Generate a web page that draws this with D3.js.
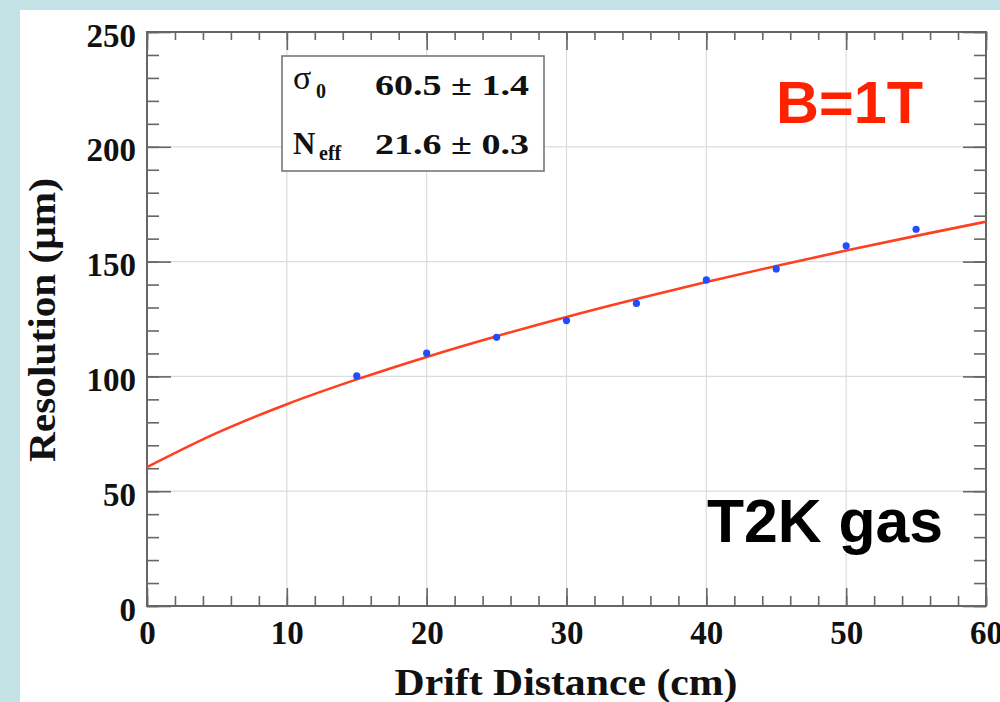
<!DOCTYPE html>
<html>
<head>
<meta charset="utf-8">
<script src="https://cdn.jsdelivr.net/npm/d3@7"></script>
<style>
  html, body { margin: 0; padding: 0; background: #c4e3e7; }
  svg { display: block; }
</style>
</head>
<body>
<svg id="chart" width="1000" height="702"></svg>
<script>
// ---- data ----
const driftDistance = [15, 20, 25, 30, 35, 40, 45, 50, 55];
const resolution    = [100.2, 110.1, 117.0, 124.3, 131.8, 142.0, 146.8, 156.9, 164.1];

const fitX = [0, 5, 10, 15, 20, 25, 30, 35, 40, 45, 50, 55, 60];
const fitY = [60.5, 75.4, 87.9, 98.7, 108.5, 117.5, 125.9, 133.7, 141.1, 148.1, 154.8, 161.2, 167.4];

const xMajorTicks = [0, 10, 20, 30, 40, 50, 60];
const yMajorTicks = [0, 50, 100, 150, 200, 250];
const xMinorTicks = d3.range(0, 60.001, 2);
const yMinorTicks = d3.range(0, 250.001, 10);

const statLabels = ["σ", "N"];
const statSubs   = ["0", "eff"];
const statValues = ["60.5 ± 1.4", "21.6 ± 0.3"];

// ---- drawing ----
const svg = d3.select("#chart");
const serif = "'Liberation Serif', 'Times New Roman', serif";
const sans = "'Liberation Sans', Arial, sans-serif";

// white panel
svg.append("rect").attr("x", 20).attr("y", 10).attr("width", 980).attr("height", 692).attr("fill", "#ffffff");

const x = d3.scaleLinear().domain([0, 60]).range([147, 986]);
const y = d3.scaleLinear().domain([0, 250]).range([606, 32]);

// grid
const grid = svg.append("g").attr("stroke", "#dcdcdc").attr("stroke-width", 1.2);
xMajorTicks.filter(v => v > 0 && v < 60).forEach(v => {
  grid.append("line").attr("x1", x(v)).attr("x2", x(v)).attr("y1", y(0)).attr("y2", y(250));
});
yMajorTicks.filter(v => v > 0 && v < 250).forEach(v => {
  grid.append("line").attr("x1", x(0)).attr("x2", x(60)).attr("y1", y(v)).attr("y2", y(v));
});

const axisColor = "#666";
function styleAxis(g) {
  g.select(".domain").remove();
  g.selectAll(".tick line").attr("stroke", axisColor).attr("stroke-width", 1.6);
}

// bottom axis
svg.append("g").attr("transform", `translate(0,${y(0)})`)
  .call(d3.axisBottom(x).tickValues(xMinorTicks).tickSize(-10).tickFormat(""))
  .call(styleAxis);
const xb = svg.append("g").attr("transform", `translate(0,${y(0)})`)
  .call(d3.axisBottom(x).tickValues(xMajorTicks).tickSize(-18).tickPadding(0).tickFormat(d3.format("d")))
  .call(styleAxis);
xb.selectAll(".tick text").attr("y", 38).attr("dy", 0)
  .attr("font-family", serif).attr("font-weight", "bold").attr("font-size", 33).attr("fill", "#111");

// top axis
svg.append("g").attr("transform", `translate(0,${y(250)})`)
  .call(d3.axisTop(x).tickValues(xMinorTicks).tickSize(-8).tickFormat(""))
  .call(styleAxis);
svg.append("g").attr("transform", `translate(0,${y(250)})`)
  .call(d3.axisTop(x).tickValues(xMajorTicks).tickSize(-18).tickFormat(""))
  .call(styleAxis);

// left axis
svg.append("g").attr("transform", `translate(${x(0)},0)`)
  .call(d3.axisLeft(y).tickValues(yMinorTicks).tickSize(-12).tickFormat(""))
  .call(styleAxis);
const yl = svg.append("g").attr("transform", `translate(${x(0)},0)`)
  .call(d3.axisLeft(y).tickValues(yMajorTicks).tickSize(-24).tickPadding(11).tickFormat(d3.format("d")))
  .call(styleAxis);
yl.selectAll(".tick text").attr("dy", 14)
  .attr("font-family", serif).attr("font-weight", "bold").attr("font-size", 33).attr("fill", "#111");

// right axis
svg.append("g").attr("transform", `translate(${x(60)},0)`)
  .call(d3.axisRight(y).tickValues(yMinorTicks).tickSize(-12).tickFormat(""))
  .call(styleAxis);
svg.append("g").attr("transform", `translate(${x(60)},0)`)
  .call(d3.axisRight(y).tickValues(yMajorTicks).tickSize(-23).tickFormat(""))
  .call(styleAxis);

// frame
svg.append("rect").attr("x", x(0)).attr("y", y(250)).attr("width", x(60) - x(0)).attr("height", y(0) - y(250))
  .attr("fill", "none").attr("stroke", axisColor).attr("stroke-width", 2);

// fit curve
const line = d3.line().x((d, i) => x(fitX[i])).y(d => y(d)).curve(d3.curveMonotoneX);
svg.append("path").datum(fitY).attr("d", line)
  .attr("fill", "none").attr("stroke", "#ff4020").attr("stroke-width", 2.6);

// data points
svg.append("g").selectAll("circle").data(resolution).join("circle")
  .attr("cx", (d, i) => x(driftDistance[i])).attr("cy", d => y(d)).attr("r", 3.6)
  .attr("fill", "#1f4dff");

// stats box
svg.append("rect").attr("x", 282).attr("y", 56).attr("width", 262).attr("height", 115)
  .attr("fill", "#fff").attr("stroke", "#777").attr("stroke-width", 1.6);
const rowBase = [95, 154];
statLabels.forEach((lab, i) => {
  const t = svg.append("text").attr("x", 293).attr("y", rowBase[i] - (i === 0 ? 6 : 0))
    .attr("font-family", serif).attr("font-size", i === 0 ? 34 : 31).attr("font-weight", i === 0 ? "normal" : "bold")
    .attr("fill", "#111").text(lab);
  svg.append("text").attr("x", i === 0 ? 316 : 319).attr("y", i === 0 ? 98 : 160)
    .attr("font-family", serif).attr("font-size", 20).attr("font-weight", "bold").attr("fill", "#111")
    .text(statSubs[i]);
  svg.append("text").attr("x", 375).attr("y", rowBase[i])
    .attr("font-family", serif).attr("font-size", 30).attr("font-weight", "bold").attr("fill", "#111")
    .attr("textLength", 154).attr("lengthAdjust", "spacingAndGlyphs")
    .text(statValues[i]);
});

// annotations
svg.append("text").attr("x", 776).attr("y", 123)
  .attr("font-family", sans).attr("font-weight", "bold").attr("font-size", 60).attr("fill", "#ff2200")
  .attr("textLength", 147).attr("lengthAdjust", "spacingAndGlyphs").text("B=1T");
svg.append("text").attr("x", 707).attr("y", 542)
  .attr("font-family", sans).attr("font-weight", "bold").attr("font-size", 62).attr("fill", "#000")
  .attr("textLength", 236).attr("lengthAdjust", "spacingAndGlyphs").text("T2K gas");

// axis titles
svg.append("text").attr("x", 566).attr("y", 695).attr("text-anchor", "middle")
  .attr("font-family", serif).attr("font-weight", "bold").attr("font-size", 37).attr("fill", "#111")
  .attr("textLength", 343).attr("lengthAdjust", "spacingAndGlyphs").text("Drift Distance (cm)");
svg.append("text").attr("transform", "translate(55,320) rotate(-90)").attr("text-anchor", "middle")
  .attr("font-family", serif).attr("font-weight", "bold").attr("font-size", 37).attr("fill", "#111")
  .attr("textLength", 284).attr("lengthAdjust", "spacingAndGlyphs").text("Resolution (μm)");
</script>
</body>
</html>
